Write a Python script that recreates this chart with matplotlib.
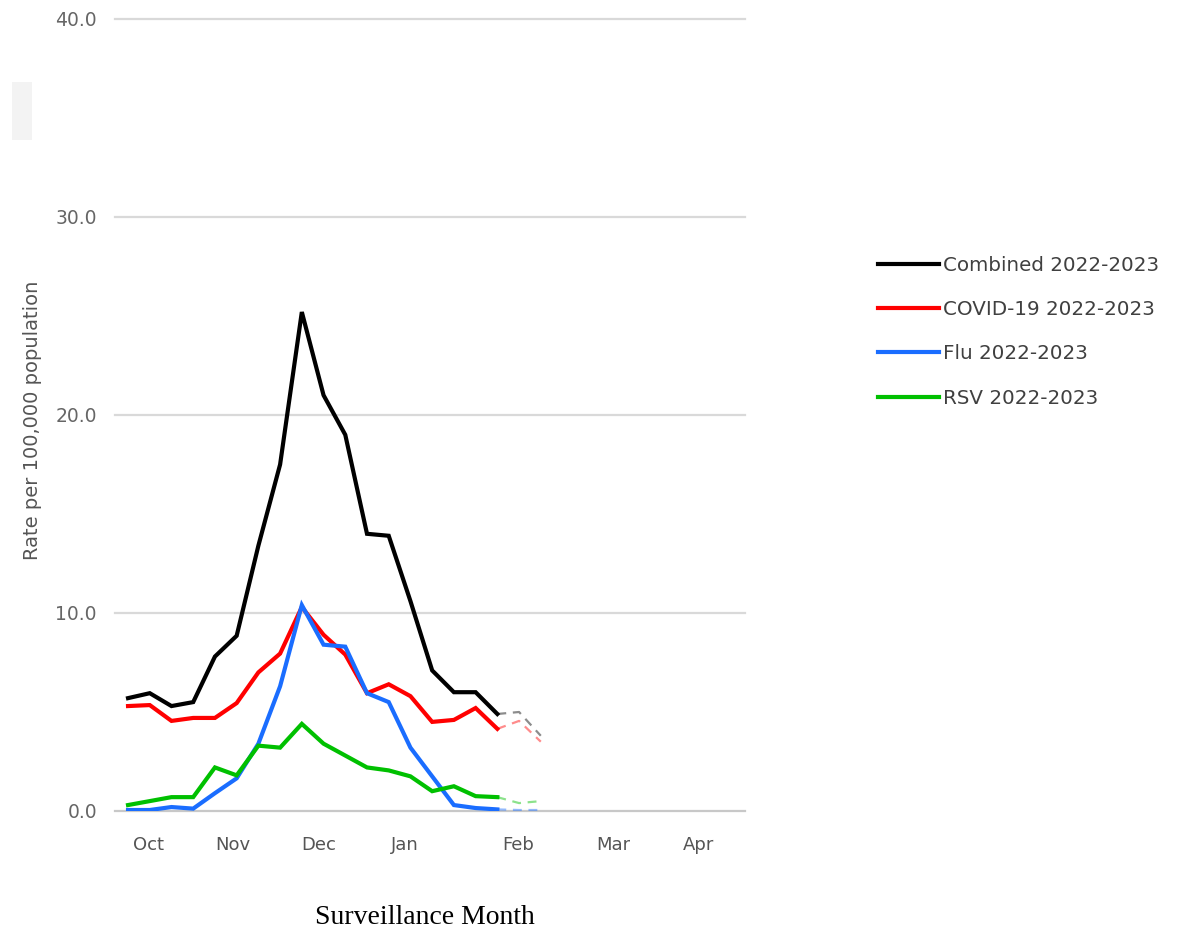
import numpy as np
import matplotlib
matplotlib.use("Agg")
import matplotlib.pyplot as plt
from matplotlib.patches import Rectangle

# weekly rates per 100,000 (weeks 0..17 reported, 17..19 provisional / dashed)
combined = [5.7, 5.95, 5.3, 5.5, 7.8, 8.85, 13.4, 17.5, 25.2, 21.0, 19.0, 14.0, 13.9,
            10.6, 7.1, 6.0, 6.0, 4.9, 5.0, 3.8]
covid = [5.3, 5.35, 4.55, 4.7, 4.7, 5.45, 7.0, 7.95, 10.3, 8.9, 7.9, 5.95, 6.4,
         5.8, 4.5, 4.6, 5.2, 4.15, 4.55, 3.5]
flu = [0.05, 0.05, 0.2, 0.12, 0.9, 1.65, 3.4, 6.3, 10.4, 8.4, 8.3, 5.95, 5.5,
       3.2, 1.75, 0.3, 0.15, 0.08, 0.05, 0.05]
rsv = [0.3, 0.5, 0.7, 0.7, 2.2, 1.8, 3.3, 3.2, 4.4, 3.4, 2.8, 2.2, 2.05,
       1.75, 1.0, 1.25, 0.75, 0.7, 0.4, 0.5]

series_names = ["Combined 2022-2023", "COVID-19 2022-2023", "Flu 2022-2023", "RSV 2022-2023"]
series_colors = ["#000000", "#ff0000", "#1a6dff", "#00c000"]

months = ["Oct", "Nov", "Dec", "Jan", "Feb", "Mar", "Apr"]
month_pos = [0.92, 4.84, 8.76, 12.76, 17.97, 22.35, 26.27]  # in week units
last_final = 17  # last reported week, later weeks drawn dashed

yticks = [0, 10, 20, 30, 40]

fig = plt.figure(figsize=(11.83, 9.31), dpi=100)
ax = fig.add_axes([115 / 1183, 120 / 931, 630 / 1183, 792 / 931])

weeks = np.arange(len(combined))
for vals, name, col in zip([combined, covid, flu, rsv], series_names, series_colors):
    vals = np.array(vals)
    ax.plot(weeks[:last_final + 1], vals[:last_final + 1], color=col, lw=3,
            label=name, solid_joinstyle="miter", zorder=3)
    ax.plot(weeks[last_final:], vals[last_final:], color=col, lw=1.6, alpha=0.45,
            linestyle=(0, (4, 3)), zorder=3)

ax.set_xlim(-0.6, 28.4)
ax.set_ylim(0, 40)
ax.set_yticks(yticks)
ax.set_yticklabels([f"{v:.1f}" for v in yticks])
ax.set_xticks(month_pos)
ax.set_xticklabels(months)

for v in yticks:
    ax.axhline(v, color="#c8c8c8" if v == 0 else "#d9d9d9", lw=1.6, zorder=1, clip_on=False)

for s in ax.spines.values():
    s.set_visible(False)
ax.tick_params(axis="y", length=0, pad=13, labelsize=13.5, labelcolor="#666666")
ax.tick_params(axis="x", length=0, pad=18, labelsize=13, labelcolor="#555555")

fig.text(33 / 1183, 1 - 420 / 931, "Rate per 100,000 population", rotation=90,
         fontsize=14, color="#555555", ha="center", va="center")

fig.text(425 / 1183, 1 - 918 / 931, "Surveillance Month", family="Liberation Serif",
         fontsize=20, ha="center", va="center", color="#000000")

leg = fig.legend(loc="upper left", bbox_to_anchor=(870 / 1183, 1 - 248 / 931),
                 frameon=False, fontsize=14.3, handlelength=3.05, handletextpad=0.25,
                 labelspacing=1.27, borderaxespad=0)
for t in leg.get_texts():
    t.set_color("#404040")
for h in leg.get_lines():
    h.set_linewidth(3)

# faint smudge in the top-left corner of the original screenshot
fig.patches.append(Rectangle((12 / 1183, 1 - 140 / 931), 20 / 1183, 58 / 931,
                             transform=fig.transFigure, color="#f3f3f3", lw=0))

fig.savefig("out.png", dpi=100)
